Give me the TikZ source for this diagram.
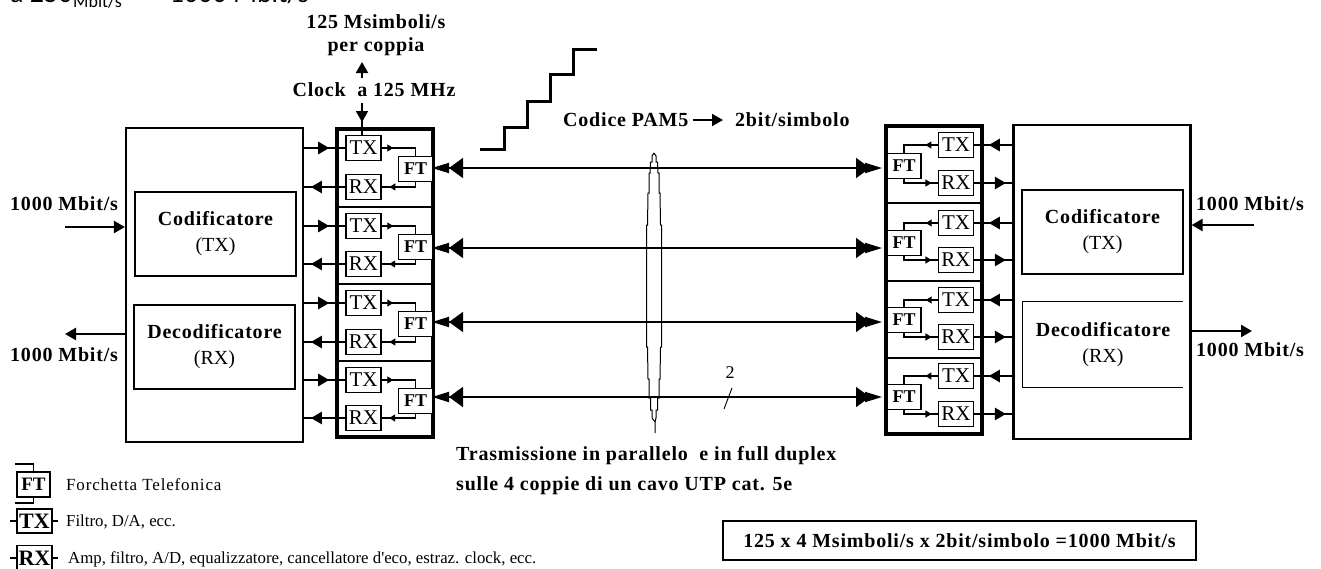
\documentclass[tikz,border=0pt]{standalone}
\usepackage{fontspec}
\setmainfont{Liberation Serif}
\newfontfamily\topfont{Carlito}
\newfontfamily\labfont{Liberation Serif}[LetterSpace=4]
\newfontfamily\legfont{Liberation Serif}
\newfontfamily\legwide{Liberation Serif}[LetterSpace=5]
\usetikzlibrary{arrows.meta, positioning, calc, decorations.markings}
\begin{document}
\begin{tikzpicture}[x=1pt, y=-1pt, >={Triangle[length=11pt,width=12pt]},
	Txt/.style={inner sep=0pt, font={\labfont\fontsize{20}{18}\selectfont\bfseries}, align=center},
	Legend/.style={inner sep=0pt, anchor=west, font={\legfont\fontsize{16.8}{18}\selectfont}},
	Bigbox/.style={draw, line width=2.2pt, inner sep=0pt},
	Innerbox/.style={draw, line width=1.2pt, inner sep=0pt},
	Codetext/.style={font={\labfont\fontsize{20}{26}\selectfont\bfseries}, align=center},
	Chanbox/.style={draw, line width=4.5pt, inner sep=0pt, minimum width=96pt, minimum height=308pt},
	Cell/.style={draw, line width=1.2pt, inner sep=0pt, fill=white, font={\fontsize{21}{21}\selectfont}, minimum width=35pt, minimum height=25pt},
	Ftcell/.style={draw, line width=1.2pt, inner sep=0pt, fill=white, font={\fontsize{18}{18}\selectfont\bfseries}, minimum width=34pt, minimum height=25pt},
	Legcell/.style={draw, line width=1.2pt, inner sep=0pt, font={\fontsize{22}{22}\selectfont\bfseries}},
	Smalltip/.style={line width=1.1pt, postaction={decorate}, decoration={markings, mark=at position #1 with {\arrow{Triangle[length=6pt,width=7pt]}}}},
	Heavytip/.style={line width=2.4pt, postaction={decorate}, decoration={markings, mark=at position #1 with {\arrow{Triangle[length=11pt,width=12pt]}}}},
	Mainline/.style={line width=1.8pt, {Triangle[length=17pt,width=10pt,sep=-5pt]Triangle[length=14pt,width=20pt]}-{Triangle[length=14pt,width=20pt,sep=-5pt]Triangle[length=17pt,width=10pt]}}]
\useasboundingbox (0,0) rectangle (1321,568);
% Top line
\node[inner sep=0pt, anchor=base west, font={\fontsize{28}{28}\selectfont\topfont}] (title) at (10,2) {a 250};
\node[inner sep=0pt, anchor=base west, font={\fontsize{18}{18}\selectfont\topfont}] (titlesub) at (73,7) {Mbit/s};
\node[inner sep=0pt, anchor=base west, font={\fontsize{28}{28}\selectfont\topfont}] (titleend) at (145,2) {\fontspec{DejaVu Sans}\fontsize{22}{22}\selectfont→\topfont\fontsize{28}{28}\selectfont{} 1000 Mbit/s};
% Main boxes
\node[Bigbox, minimum width=177pt, minimum height=314pt] (Lbox) at (214.5,285) {};
\node[Bigbox, minimum width=177pt, minimum height=314pt] (Rbox) at (1102,282) {};
\node[Innerbox, Codetext, minimum width=161pt, minimum height=84pt] (Lcod) at (215.5,234) {Codificatore\\{\normalfont(TX)}};
\node[Innerbox, Codetext, minimum width=161pt, minimum height=84pt] (Ldec) at (214.5,347) {Decodificatore\\{\normalfont(RX)}};
\node[Innerbox, Codetext, minimum width=161pt, minimum height=84pt] (Rcod) at (1102.5,232) {Codificatore\\{\normalfont(TX)}};
\node[Codetext, inner sep=0pt, minimum width=160pt, minimum height=85pt] (Rdec) at (1103,344.5) {Decodificatore\\{\normalfont(RX)}};
\draw[line width=1.2pt] (Rdec.north east) -- (Rdec.north west) -- (Rdec.south west) -- (Rdec.south east);
\node[Chanbox] (ChL) at (385,283) {};
\node[Chanbox] (ChR) at (934,280) {};
\foreach \ydiv in {207,284,361}
	\draw[line width=2pt] (ChL.west |- 0,\ydiv) -- (ChL.east |- 0,\ydiv);
\foreach \ydiv in {203,281,358}
	\draw[line width=2pt] (ChR.west |- 0,\ydiv) -- (ChR.east |- 0,\ydiv);
% Left channels
\foreach \n/\ytx/\yrx/\yft in {1/148/187/169, 2/226/264/247, 3/303/342/324, 4/380/418/401}{
	\node[Cell] (TXl\n) at (363.5,\ytx) {TX};
	\node[Cell] (RXl\n) at (363.5,\yrx) {RX};
	\node[Ftcell] (FTl\n) at (415.5,\yft) {FT};
	\draw[line width=1.1pt] (TXl\n.west) -- (ChL.west |- TXl\n.west);
	\draw[line width=1.1pt] (RXl\n.west) -- (ChL.west |- RXl\n.west);
	\draw[Heavytip=0.82] (Lbox.east |- TXl\n.west) -- (ChL.west |- TXl\n.west);
	\draw[Heavytip=0.78] (ChL.west |- RXl\n.west) -- (Lbox.east |- RXl\n.west);
	\draw[Smalltip=0.28] (TXl\n.east) -| (FTl\n.north);
	\draw[Smalltip=0.8] (FTl\n.south) |- (RXl\n.east);
}
% Right channels
\foreach \n/\ytx/\yrx/\yft in {1/145/183/166, 2/223/260/243, 3/300/337/320, 4/376/414/397}{
	\node[Cell] (TXr\n) at (956,\ytx) {TX};
	\node[Cell] (RXr\n) at (956,\yrx) {RX};
	\node[Ftcell] (FTr\n) at (904,\yft) {FT};
	\draw[line width=1.1pt] (TXr\n.east) -- (ChR.east |- TXr\n.east);
	\draw[line width=1.1pt] (RXr\n.east) -- (ChR.east |- RXr\n.east);
	\draw[Heavytip=0.84] (Rbox.west |- TXr\n.east) -- (ChR.east |- TXr\n.east);
	\draw[Heavytip=0.77] (ChR.east |- RXr\n.east) -- (Rbox.west |- RXr\n.east);
	\draw[Smalltip=0.3] (TXr\n.west) -| (FTr\n.north);
	\draw[Smalltip=0.83] (FTr\n.south) |- (RXr\n.west);
}
% Cable
\foreach \n/\yl in {1/168, 2/248, 3/322, 4/397}{
	\coordinate (ML\n) at (437,\yl);
	\coordinate (MR\n) at (882,\yl);
	\draw[Mainline] (ML\n) -- (MR\n);
}
\draw[line width=1pt] (654,153) -- (652,156) -- (652,162) -- (650.5,162) -- (650,173) -- (649,173) -- (649,193) -- (648,193) -- (647.5,225) -- (646.5,225) -- (646.5,347) -- (647.5,347) -- (648,379) -- (649,379) -- (649,398) -- (650.5,398) -- (650.5,410) -- (652,410) -- (652,418) -- (655,422) -- (655,433);
\draw[line width=1pt] (654,153) -- (656,156) -- (656,162) -- (657.5,162) -- (658,173) -- (659,173) -- (659,193) -- (660,193) -- (660.5,225) -- (661.5,225) -- (661.5,347) -- (660.5,347) -- (660,379) -- (659,379) -- (659,398) -- (657.5,398) -- (657.5,410) -- (656,410) -- (656,418) -- (655,422);
\node[inner sep=0pt, font={\fontsize{18}{18}\selectfont}] (two) at (730,373) {2};
\coordinate (tickA) at (724,409);
\coordinate (tickB) at (732,388);
\draw[line width=0.9pt] (tickA) -- (tickB);
% Upper labels
\node[Txt] (sym) at (376,35) {125 Msimboli/s\\[5pt]per coppia};
\node[Txt] (clock) at (374,90) {Clock\ \ a 125 MHz};
\coordinate (upA) at (362,78);
\coordinate (upB) at (362,62);
\coordinate (downA) at (362,103);
\draw[line width=2pt, ->] (upA) -- (upB);
\draw[Heavytip=0.6, line width=1.1pt] (downA) -- (TXl1.north -| downA);
\draw[line width=2.4pt] (362,103) -- (362,114);
\draw[line width=3pt] (480,149) -- (504,149) -- (504,127) -- (527,127) -- (527,101) -- (550,101) -- (550,74) -- (573,74) -- (573,49) -- (597,49);
\node[Txt, anchor=west] (pam) at (563,120) {Codice PAM5};
\node[Txt, anchor=west] (bits) at (735,120) {2bit/simbolo};
\coordinate (pamtip) at (723,120);
\draw[line width=2pt, ->] (pam.east) ++(4,0) -- (pamtip);
% Input and output
\node[Txt, anchor=west] (inL) at (10,204) {1000 Mbit/s};
\node[Txt, anchor=west] (outL) at (10,355) {1000 Mbit/s};
\node[Txt, anchor=west] (inR) at (1196,204) {1000 Mbit/s};
\node[Txt, anchor=west] (outR) at (1196,350) {1000 Mbit/s};
\coordinate (inLs) at (65,227);
\coordinate (outLe) at (65,334);
\coordinate (inRs) at (1254,225);
\coordinate (outRe) at (1252,331);
\draw[line width=2.4pt, ->] (inLs) -- (Lbox.west |- inLs);
\draw[line width=2.4pt, ->] (Lbox.west |- outLe) -- (outLe);
\draw[line width=2.4pt, ->] (inRs) -- (Rbox.east |- inRs);
\draw[line width=2.4pt, ->] (Rbox.east |- outRe) -- (outRe);
% Bottom labels
\node[Txt, anchor=west] (par) at (456,456) {Trasmissione in parallelo\ \ e in full duplex};
\node[Txt, anchor=west] (duplex) at (456,486) {sulle 4 coppie di un cavo UTP cat. 5e};
\node[draw, line width=1.2pt, inner sep=0pt, minimum width=473pt, minimum height=39pt, font={\labfont\fontsize{20}{18}\selectfont\bfseries}] (sum) at (959.5,540.5) {125 x 4 Msimboli/s x 2bit/simbolo =1000 Mbit/s};
% Legend
\node[Legcell, font={\fontsize{19}{19}\selectfont\bfseries}, minimum width=33pt, minimum height=25pt] (legFT) at (33.5,484.5) {FT};
\coordinate (legFTa) at (15,464);
\coordinate (legFTb) at (15,503);
\draw[line width=1.1pt] (legFTa) -| (legFT.north);
\draw[line width=1.1pt] (legFTb) -| (legFT.south);
\node[Legcell, minimum width=35pt, minimum height=24pt] (legTX) at (34.5,521) {TX};
\node[Legcell, minimum width=35pt, minimum height=25pt] (legRX) at (34.5,558) {RX};
\foreach \c in {legTX, legRX}{
	\draw[line width=1.1pt] (\c.west) -- ++(-6,0);
	\draw[line width=1.1pt] (\c.east) -- ++(5,0);
}
\node[Legend, font={\legwide\fontsize{17}{18}\selectfont}] (txtFT) at (66,485) {Forchetta Telefonica};
\node[Legend] (txtTX) at (66,522) {Filtro, D/A, ecc.};
\node[Legend] (txtRX) at (68,559) {Amp, filtro, A/D, equalizzatore, cancellatore d'eco, estraz. clock, ecc.};
\end{tikzpicture}
\end{document}
